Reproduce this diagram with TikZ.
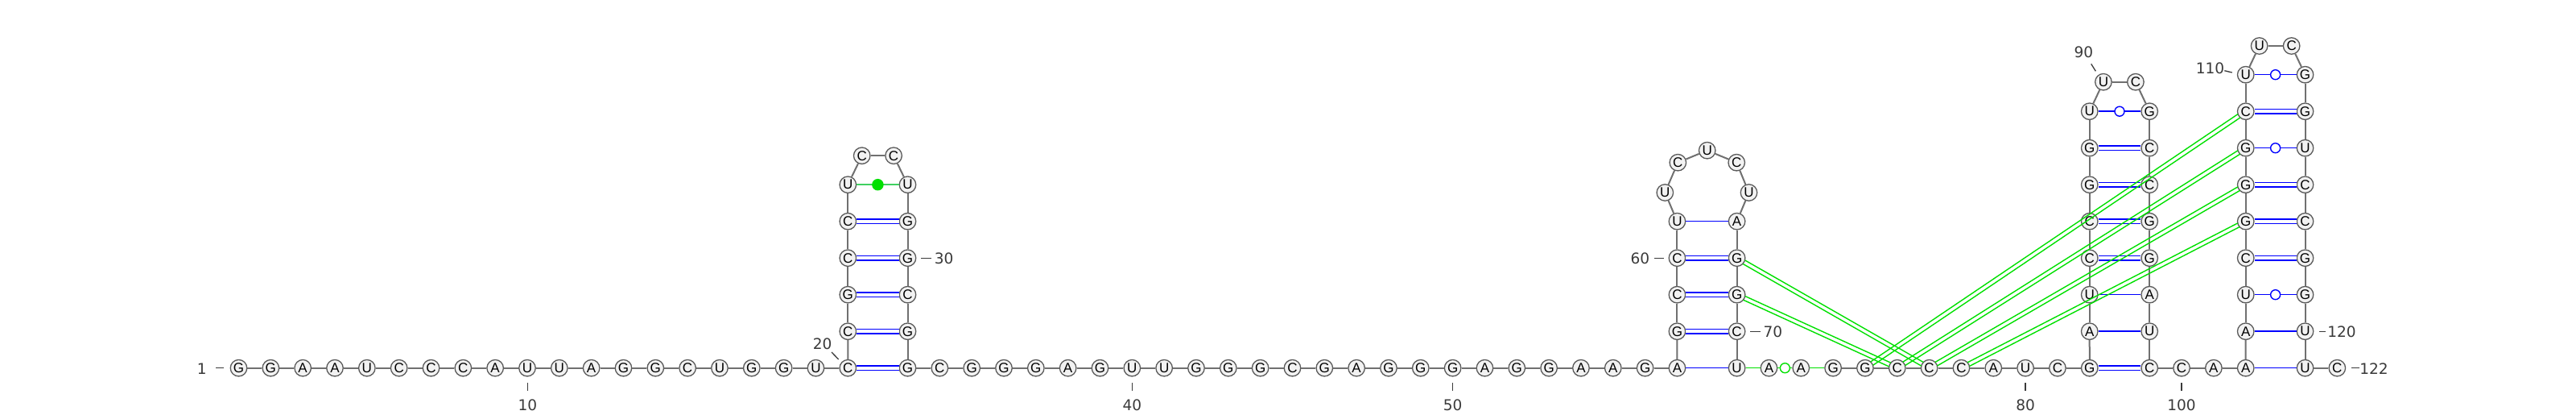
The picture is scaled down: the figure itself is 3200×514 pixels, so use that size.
\documentclass[tikz,border=0pt]{standalone}
\usepackage{fontspec}
\setmainfont{DejaVu Sans}
\newfontfamily\ntfam{Liberation Sans}
\usetikzlibrary{calc}
\definecolor{ntfill}{HTML}{F2F2F2}
\definecolor{ntline}{HTML}{5A5A5A}
\definecolor{bbgray}{HTML}{707070}
\definecolor{lblgray}{HTML}{3A3A3A}
\definecolor{pblue}{HTML}{0000FF}
\definecolor{pgreen}{HTML}{00E000}
\definecolor{softgreen}{HTML}{40D060}
\newcommand\pkpair[2]{%
 \draw[pk,shorten <=10pt,shorten >=10pt] ($(#1)!2.6pt!90:(#2)$) -- ($(#2)!2.6pt!-90:(#1)$);
 \draw[pk,shorten <=10pt,shorten >=10pt] ($(#1)!2.6pt!-90:(#2)$) -- ($(#2)!2.6pt!90:(#1)$);}
\begin{document}
\begin{tikzpicture}[x=1pt,y=-1pt,
 nt/.style={circle,draw=ntline,fill=ntfill,line width=1.3pt,minimum size=20.5pt,inner sep=0pt,font=\ntfam\fontsize{17}{17}\selectfont},
 bbone/.style={draw=bbgray,line width=2pt},
 single/.style={draw=pblue,line width=1.5pt},
 dbl/.style={draw=pblue,double=white,double distance=3.8pt,line width=1.4pt},
 wobc/.style={circle,draw=pblue,fill=white,line width=1.4pt,minimum size=12pt,inner sep=0pt},
 pk/.style={draw=pgreen,line width=1.4pt},
 lbl/.style={text=lblgray,font=\fontsize{18.5}{18.5}\selectfont,inner sep=0pt},
 tickline/.style={draw=lblgray,line width=1.3pt}
]
\fill[white] (0,0) rectangle (3200,514);
\useasboundingbox (0,0) rectangle (3200,514);
% 1..20
\foreach \i/\b in {1/G,2/G,3/A,4/A,5/U,6/C,7/C,8/C,9/A,10/U,11/U,12/A,13/G,14/G,15/C,16/U,17/G,18/G,19/U,20/C}
 \node[nt] (n\i) at ({296.5+(\i-1)*39.83},456.7) {\b};
% hairpin 1
\foreach \i/\b/\k in {21/C/1,22/G/2,23/C/3,24/C/4,25/U/5}
 \node[nt] (n\i) at (1053.3,{456.7-45.5*\k}) {\b};
\node[nt] (n26) at (1070.7,193.2) {C};
\node[nt] (n27) at (1110.1,193.2) {C};
\foreach \i/\b/\k in {28/U/5,29/G/4,30/G/3,31/C/2,32/G/1,33/G/0}
 \node[nt] (n\i) at (1127.5,{456.7-45.5*\k}) {\b};
% 34..57
\foreach \i/\b in {34/C,35/G,36/G,37/G,38/A,39/G,40/U,41/U,42/G,43/G,44/G,45/C,46/G,47/A,48/G,49/G,50/G,51/A,52/G,53/G,54/A,55/A,56/G,57/A}
 \node[nt] (n\i) at ({1127.5+(\i-33)*39.83},456.7) {\b};
% hairpin 2
\foreach \i/\b/\k in {58/G/1,59/C/2,60/C/3,61/U/4}
 \node[nt] (n\i) at (2083.4,{456.7-45.5*\k}) {\b};
\node[nt] (n62) at (2068.3,239) {U};
\node[nt] (n63) at (2084.3,201.7) {C};
\node[nt] (n64) at (2120.7,186.7) {U};
\node[nt] (n65) at (2157.2,201.7) {C};
\node[nt] (n66) at (2172.5,239) {U};
\foreach \i/\b/\k in {67/A/4,68/G/3,69/G/2,70/C/1,71/U/0}
 \node[nt] (n\i) at (2157.6,{456.7-45.5*\k}) {\b};
% 72..82
\foreach \i/\b in {72/A,73/A,74/G,75/G,76/C,77/C,78/C,79/A,80/U,81/C,82/G}
 \node[nt] (n\i) at ({2157.6+(\i-71)*39.83},456.7) {\b};
% hairpin 3
\foreach \i/\b/\k in {83/A/1,84/U/2,85/C/3,86/C/4,87/G/5,88/G/6,89/U/7}
 \node[nt] (n\i) at (2595.7,{456.7-45.5*\k}) {\b};
\node[nt] (n90) at (2612.9,101.7) {U};
\node[nt] (n91) at (2652.9,101.7) {C};
\foreach \i/\b/\k in {92/G/7,93/C/6,94/C/5,95/G/4,96/G/3,97/A/2,98/U/1,99/C/0}
 \node[nt] (n\i) at (2670.2,{456.7-45.5*\k}) {\b};
% 100..102
\foreach \i/\b in {100/C,101/A,102/A}
 \node[nt] (n\i) at ({2670.2+(\i-99)*39.83},456.7) {\b};
% hairpin 4
\foreach \i/\b/\k in {103/A/1,104/U/2,105/C/3,106/G/4,107/G/5,108/G/6,109/C/7,110/U/8}
 \node[nt] (n\i) at (2789.7,{456.7-45.5*\k}) {\b};
\node[nt] (n111) at (2806.6,57) {U};
\node[nt] (n112) at (2846.6,57) {C};
\foreach \i/\b/\k in {113/G/8,114/G/7,115/U/6,116/C/5,117/C/4,118/G/3,119/G/2,120/U/1,121/U/0}
 \node[nt] (n\i) at (2863.5,{456.7-45.5*\k}) {\b};
\node[nt] (n122) at (2903.3,456.7) {C};
% backbone
\foreach \i [evaluate=\i as \j using int(\i+1)] in {1,...,70}
 \draw[bbone] (n\i) -- (n\j);
\foreach \i [evaluate=\i as \j using int(\i+1)] in {74,...,121}
 \draw[bbone] (n\i) -- (n\j);
\draw[pk] (n71) -- (n72);
\draw[pk] (n73) -- (n74);
\draw[pk] (n72) -- (n73) node[midway,circle,draw=pgreen,fill=white,line width=1.4pt,minimum size=12pt,inner sep=0pt] (g7273) {};
% base pairs
\foreach \a/\b in {20/33,21/32,22/31,23/30,24/29,58/70,59/69,60/68,82/99,85/96,86/95,87/94,88/93,105/118,106/117,107/116,109/114}
 \draw[dbl] (n\a) -- (n\b);
\foreach \a/\b in {57/71,61/67,83/98,84/97,102/121,103/120}
 \draw[single] (n\a) -- (n\b);
\foreach \a/\b in {89/92,104/119,108/115,110/113}
 \draw[single] (n\a) -- (n\b) node[midway,wobc] (w\a) {};
\draw[draw=softgreen,line width=1.5pt] (n25) -- (n28) node[midway,circle,fill=pgreen,minimum size=14.5pt,inner sep=0pt] (gd25) {};
% pseudoknot
\pkpair{n68}{n77}
\pkpair{n69}{n76}
\pkpair{n75}{n109}
\pkpair{n76}{n108}
\pkpair{n77}{n107}
\pkpair{n78}{n106}
% labels
\node[lbl] (l1) at (250.7,457.5) {1};
\draw[tickline] (268,456.5) -- (277.7,456.5);
\node[lbl] (l10) at (655.3,503) {10};
\draw[tickline] (655.3,475) -- (655.3,485);
\node[lbl] (l20) at (1021.7,426.7) {20};
\draw[tickline] (1033,437) -- (1041.7,446);
\node[lbl] (l30) at (1172.7,321) {30};
\draw[tickline] (1144,320.5) -- (1156.7,320.5);
\node[lbl] (l40) at (1406.3,503) {40};
\draw[tickline] (1406.3,475) -- (1406.3,485);
\node[lbl] (l50) at (1804.6,503) {50};
\draw[tickline] (1804.6,475) -- (1804.6,485);
\node[lbl] (l60) at (2037.3,321) {60};
\draw[tickline] (2055,320.5) -- (2066.7,320.5);
\node[lbl] (l70) at (2202.3,411.7) {70};
\draw[tickline] (2174,411.5) -- (2186.7,411.5);
\node[lbl] (l80) at (2516.1,503) {80};
\draw[tickline] (2516.1,475) -- (2516.1,485);
\node[lbl] (l90) at (2588.3,65) {90};
\draw[tickline] (2597.7,79.3) -- (2603.3,88.3);
\node[lbl] (l100) at (2710,503) {100};
\draw[tickline] (2710,475) -- (2710,485);
\node[lbl] (l110) at (2745.5,84.3) {110};
\draw[tickline] (2763.3,87.7) -- (2772.7,90);
\node[lbl] (l120) at (2909,411.7) {120};
\draw[tickline] (2880.7,411.5) -- (2889.3,411.5);
\node[lbl] (l122) at (2949,457.5) {122};
\draw[tickline] (2920.7,456.5) -- (2930.7,456.5);
\end{tikzpicture}
\end{document}
